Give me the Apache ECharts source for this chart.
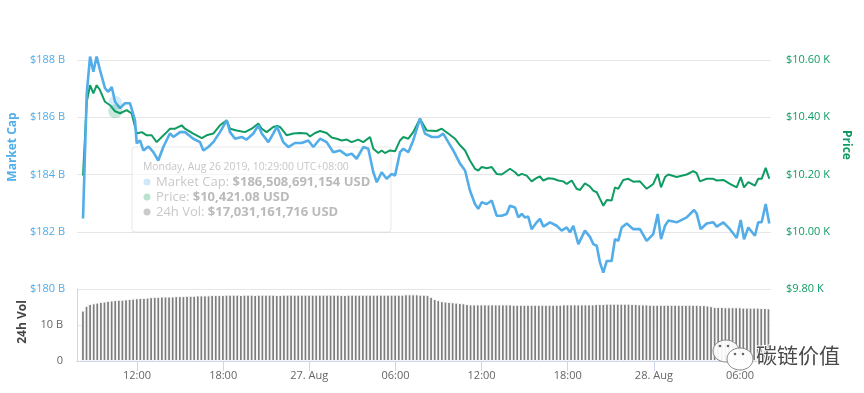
<!DOCTYPE html>
<html><head><meta charset="utf-8">
<script src="https://cdn.jsdelivr.net/npm/echarts@6/dist/echarts.min.js"></script>
<style>html,body{margin:0;padding:0;background:#fff}#c{width:864px;height:393px}</style>
</head><body><div id="c"></div>
<script>
// hours since Aug 26 2019 00:00 (UTC+08:00)
const mcHours = [8.24,8.50,8.73,8.96,9.19,9.42,9.77,10.00,10.24,10.47,10.82,11.16,11.51,11.86,11.98,12.21,12.44,12.79,13.14,13.48,13.83,14.30,14.53,15.00,15.34,15.92,16.39,16.62,16.97,17.31,17.78,18.25,18.48,18.83,19.29,19.64,20.10,20.45,20.69,21.15,21.49,21.75,22.19,22.54,23.00,23.47,23.93,24.28,24.75,25.21,25.67,26.14,26.61,26.95,27.30,27.76,28.11,28.46,28.70,29.04,29.39,29.74,29.97,30.32,30.55,30.90,31.24,31.71,32.06,32.53,32.99,33.33,33.68,34.03,34.50,34.85,35.19,35.54,35.77,36.01,36.36,36.71,37.05,37.40,37.75,37.98,38.33,38.56,38.80,39.02,39.25,39.49,39.84,40.07,40.30,40.77,41.23,41.58,41.93,42.16,42.39,42.74,43.20,43.55,43.78,44.02,44.25,44.48,44.72,45.06,45.29,45.52,45.76,46.11,46.57,47.03,47.50,47.96,48.27,48.50,48.78,49.01,49.59,50.29,50.80,50.98,51.26,51.68,52.14,52.38,52.84,53.30,53.77,54.05,54.28,54.58,55.04,55.27,55.51,55.79,56.04];
const mcValues = [182.46,186.84,188.12,187.59,188.12,187.65,187.02,186.89,187.06,186.54,186.32,186.49,186.49,185.89,185.09,185.19,184.84,184.98,184.78,184.49,184.96,185.44,185.31,185.48,185.48,185.25,185.13,184.84,184.96,185.13,185.48,185.89,185.48,185.25,185.31,185.22,185.43,185.72,185.43,185.13,185.43,185.68,185.13,184.96,185.10,185.10,185.19,184.96,185.25,185.13,184.78,184.84,184.67,184.73,184.55,184.96,184.90,184.08,183.73,184.08,183.85,184.02,183.96,184.78,184.90,184.78,185.19,185.95,185.43,185.31,185.31,185.43,185.13,184.84,184.38,184.14,183.44,182.97,182.80,183.03,182.97,183.09,182.56,182.56,182.62,182.91,182.85,182.50,182.62,182.50,182.53,182.09,182.33,182.45,182.18,182.33,182.21,182.04,182.15,181.98,182.21,181.57,182.04,181.82,181.57,181.51,180.92,180.57,180.98,180.98,181.74,181.68,182.15,182.29,182.09,182.09,181.68,181.92,182.62,181.74,182.21,182.39,182.33,182.50,182.76,182.64,182.09,182.29,182.33,182.18,182.33,182.09,181.78,182.41,181.74,182.15,181.86,182.33,182.33,182.97,182.29];
const priceHours = [8.24,8.50,8.73,8.96,9.19,9.42,9.77,10.12,10.47,10.82,11.28,11.63,11.98,12.33,12.68,13.02,13.37,13.60,14.07,14.30,14.65,15.11,15.34,15.92,16.51,16.85,17.31,17.78,18.25,18.48,18.94,19.52,19.99,20.45,20.69,21.03,21.49,21.75,21.96,22.43,22.89,23.35,23.82,24.05,24.40,24.75,25.21,25.56,25.91,26.26,26.61,26.95,27.41,27.76,28.23,28.46,28.81,29.04,29.27,29.62,29.97,30.32,30.55,30.90,31.24,31.71,32.18,32.87,33.22,33.68,34.15,34.50,34.85,35.19,35.54,35.77,36.01,36.36,36.71,37.05,37.40,37.63,37.98,38.33,38.56,38.80,39.14,39.49,39.84,40.07,40.30,40.65,41.00,41.34,41.69,41.93,42.28,42.62,42.86,43.20,43.55,43.78,44.02,44.25,44.48,44.72,45.06,45.29,45.52,45.87,46.22,46.57,47.03,47.50,47.96,48.27,48.50,48.78,49.01,49.59,50.29,50.75,50.98,51.21,51.68,52.14,52.38,52.84,53.30,53.77,54.05,54.28,54.58,55.04,55.27,55.51,55.79,56.04];
const priceValues = [10196,10454,10512,10483,10512,10495,10454,10442,10421,10414,10425,10413,10343,10348,10337,10337,10313,10325,10348,10360,10360,10372,10360,10343,10327,10337,10343,10372,10389,10360,10354,10348,10360,10378,10360,10348,10366,10370,10366,10337,10343,10345,10343,10333,10345,10352,10345,10329,10325,10319,10322,10313,10322,10313,10331,10290,10275,10284,10275,10284,10281,10319,10331,10325,10348,10395,10354,10352,10360,10343,10325,10302,10284,10249,10220,10214,10226,10222,10226,10202,10200,10208,10220,10208,10196,10202,10196,10176,10188,10193,10179,10187,10185,10179,10176,10167,10179,10150,10146,10169,10158,10144,10138,10115,10091,10111,10109,10155,10150,10181,10185,10175,10176,10150,10167,10202,10155,10191,10200,10191,10200,10212,10205,10176,10185,10185,10179,10181,10167,10155,10191,10155,10173,10161,10185,10185,10223,10185];
const volStartHour = 8.233;
const volStepHours = 0.25;
const volValues = [14.0,15.3,15.8,16.0,16.2,16.4,16.5,16.7,16.8,16.9,
17.0,17.0,17.1,17.2,17.3,17.4,17.5,17.5,17.6,17.7,
17.8,17.8,17.9,17.9,17.9,17.9,18.0,18.0,18.0,18.1,
18.1,18.1,18.2,18.2,18.2,18.2,18.3,18.3,18.3,18.3,
18.4,18.4,18.4,18.4,18.3,18.4,18.4,18.4,18.3,18.4,
18.4,18.4,18.4,18.4,18.3,18.3,18.4,18.4,18.4,18.4,
18.4,18.4,18.4,18.4,18.4,18.4,18.4,18.4,18.4,18.4,
18.4,18.4,18.3,18.3,18.4,18.4,18.4,18.4,18.4,18.4,
18.4,18.4,18.4,18.4,18.4,18.4,18.4,18.4,18.4,18.4,
18.5,18.5,18.5,18.5,18.4,18.4,18.3,17.8,17.2,16.9,
16.6,16.5,16.4,16.3,16.2,16.1,16.0,15.8,15.7,15.7,
15.7,15.7,15.7,15.7,15.7,15.7,15.7,15.7,15.7,15.7,
15.6,15.6,15.6,15.6,15.6,15.6,15.6,15.6,15.6,15.6,
15.6,15.6,15.6,15.6,15.7,15.7,15.7,15.7,15.7,15.7,
15.7,15.7,15.7,15.8,15.8,15.8,15.9,15.9,15.9,15.9,
15.9,15.9,15.9,15.8,15.8,15.7,15.7,15.7,15.6,15.6,
15.6,15.6,15.6,15.6,15.6,15.6,15.6,15.6,15.6,15.6,
15.6,15.6,15.5,15.5,15.4,15.2,15.0,15.0,15.0,14.9,
14.9,14.9,14.9,14.9,14.8,14.8,14.8,14.8,14.8,14.7,14.7,14.6];
const xTickHours = [12,18,24,30,36,42,48,54];
const xTickLabels = ['12:00','18:00','27. Aug','06:00','12:00','18:00','28. Aug','06:00'];
const hoverHour = 10.4833;
const hoverLabel = 'Monday, Aug 26 2019, 10:29:00 UTC+08:00';
const hoverMC = 186508691154;
const hoverPrice = 10421.08;
const hoverVol = 17031161716;

const BLUE = '#52ade8', GREEN = '#0e9c62', FONT = '"Open Sans", sans-serif';
const xMin = 7.82, xMax = 56.16;
const fmtInt = n => Math.round(n).toLocaleString('en-US');
const fmt2 = n => n.toLocaleString('en-US', {minimumFractionDigits: 2, maximumFractionDigits: 2});
const rowRich = {l: {fill: '#c9c9c9', font: '13px "Open Sans", sans-serif'}, v: {fill: '#bababa', font: 'bold 13px "Open Sans", sans-serif'}};

const chart = echarts.init(document.getElementById('c'), null, {renderer: 'canvas'});
chart.setOption({
  animation: false,
  backgroundColor: '#fff',
  grid: [
    {left: 77, right: 93, top: 60, height: 229},
    {left: 77, right: 93, top: 289, height: 72}
  ],
  xAxis: [
    {type: 'value', gridIndex: 0, min: xMin, max: xMax, show: false},
    {type: 'value', gridIndex: 1, min: xMin, max: xMax,
      axisLine: {show: true, lineStyle: {color: '#ccd6eb'}},
      axisTick: {show: true, length: 10, lineStyle: {color: '#ccd6eb'}, customValues: xTickHours},
      splitLine: {show: false},
      axisLabel: {customValues: xTickHours, color: '#666', fontSize: 11, fontFamily: FONT, margin: 9,
        formatter: v => { const i = xTickHours.indexOf(Math.round(v)); return i >= 0 ? xTickLabels[i] : ''; }}
    }
  ],
  yAxis: [
    {type: 'value', gridIndex: 0, min: 180, max: 188, interval: 2, position: 'left',
      axisLine: {show: false}, axisTick: {show: false},
      splitLine: {lineStyle: {color: '#e6e6e6'}},
      axisLabel: {color: BLUE, fontSize: 11, fontFamily: FONT, margin: 12, formatter: v => '$' + v + ' B'}},
    {type: 'value', gridIndex: 0, min: 9800, max: 10600, interval: 200, position: 'right',
      axisLine: {show: false}, axisTick: {show: false}, splitLine: {show: false},
      axisLabel: {color: GREEN, fontSize: 11, fontFamily: FONT, margin: 15, formatter: v => '$' + (v / 1000).toFixed(2) + ' K'}},
    {type: 'value', gridIndex: 1, min: 0, max: 20, interval: 10,
      axisLine: {show: true, lineStyle: {color: '#ccd6eb'}}, axisTick: {show: false},
      splitLine: {lineStyle: {color: '#e6e6e6'}},
      axisLabel: {color: '#666', fontSize: 11, fontFamily: FONT, margin: 14, showMaxLabel: false,
        formatter: v => v === 0 ? '0' : v + ' B'}}
  ],
  series: [
    {type: 'bar', xAxisIndex: 1, yAxisIndex: 2, barWidth: 3.6,
      itemStyle: {color: '#7d7d7d', borderColor: '#fff', borderWidth: 0.9},
      data: volValues.map((v, i) => [volStartHour + i * volStepHours, v])},
    {type: 'line', name: 'Price', xAxisIndex: 0, yAxisIndex: 1, showSymbol: false, clip: false, z: 3,
      lineStyle: {color: GREEN, width: 2}, itemStyle: {color: GREEN},
      data: priceHours.map((h, i) => [h, priceValues[i]])},
    {type: 'line', name: 'Market Cap', xAxisIndex: 0, yAxisIndex: 0, showSymbol: false, clip: false, z: 4,
      lineStyle: {color: BLUE, width: 2.6}, itemStyle: {color: BLUE},
      data: mcHours.map((h, i) => [h, mcValues[i]])},
    {type: 'scatter', xAxisIndex: 0, yAxisIndex: 0, symbolSize: 14, z: 5, silent: true,
      itemStyle: {color: 'rgba(82,173,232,0.28)'}, data: [[hoverHour, hoverMC / 1e9]]},
    {type: 'scatter', xAxisIndex: 0, yAxisIndex: 1, symbolSize: 14, z: 5, silent: true,
      itemStyle: {color: 'rgba(14,156,98,0.28)'}, data: [[hoverHour, hoverPrice]]}
  ],
  graphic: [
    {type: 'text', x: 13, y: 147, rotation: Math.PI / 2,
      style: {text: 'Market Cap', fill: BLUE, font: 'bold 12px "Open Sans", sans-serif', align: 'center', verticalAlign: 'middle'}},
    {type: 'text', x: 846, y: 145, rotation: -Math.PI / 2,
      style: {text: 'Price', fill: GREEN, font: 'bold 12px "Open Sans", sans-serif', align: 'center', verticalAlign: 'middle'}},
    {type: 'text', x: 23, y: 322, rotation: Math.PI / 2,
      style: {text: '24h Vol', fill: '#444', font: 'bold 12px "Open Sans", sans-serif', align: 'center', verticalAlign: 'middle'}},
    // faded tooltip
    {type: 'rect', z: 1, shape: {x: 132, y: 147, width: 259, height: 85, r: 3},
      style: {fill: 'rgba(255,255,255,0.65)', stroke: 'rgba(190,190,190,0.35)', lineWidth: 1}},
    {type: 'text', z: 1, x: 143, y: 167,
      style: {text: hoverLabel, fill: '#c6c6c6', font: '10.4px "Open Sans", sans-serif', verticalAlign: 'middle'}},
    {type: 'circle', z: 1, shape: {cx: 147, cy: 182, r: 3.5}, style: {fill: '#cfe7f8'}},
    {type: 'circle', z: 1, shape: {cx: 147, cy: 197, r: 3.5}, style: {fill: '#b9e2cf'}},
    {type: 'circle', z: 1, shape: {cx: 147, cy: 212, r: 3.5}, style: {fill: '#cacaca'}},
    {type: 'text', z: 1, x: 156, y: 182,
      style: {text: '{l|Market Cap: }{v|$' + fmtInt(hoverMC) + ' USD}', verticalAlign: 'middle', rich: rowRich}},
    {type: 'text', z: 1, x: 156, y: 197,
      style: {text: '{l|Price: }{v|$' + fmt2(hoverPrice) + ' USD}', verticalAlign: 'middle', rich: rowRich}},
    {type: 'text', z: 1, x: 156, y: 212,
      style: {text: '{l|24h Vol: }{v|$' + fmtInt(hoverVol) + ' USD}', verticalAlign: 'middle', rich: rowRich}},
    // watermark
    {type: 'ellipse', z: 20, shape: {cx: 726, cy: 351, rx: 13, ry: 11}, style: {fill: 'rgba(255,255,255,0.9)', stroke: '#8a8a8a', lineWidth: 1}},
    {type: 'ellipse', z: 21, shape: {cx: 740, cy: 359, rx: 13, ry: 11}, style: {fill: 'rgba(255,255,255,0.95)', stroke: '#8a8a8a', lineWidth: 1}},
    {type: 'circle', z: 22, shape: {cx: 720, cy: 346, r: 1.3}, style: {fill: '#666'}},
    {type: 'circle', z: 22, shape: {cx: 728, cy: 346, r: 1.3}, style: {fill: '#666'}},
    {type: 'circle', z: 22, shape: {cx: 735, cy: 354, r: 1.3}, style: {fill: '#666'}},
    {type: 'circle', z: 22, shape: {cx: 743, cy: 354, r: 1.3}, style: {fill: '#666'}},
    {type: 'text', z: 22, x: 756, y: 355,
      style: {text: '碳链价值', fill: '#4a4a4a', stroke: '#fff', lineWidth: 2, font: '21px "Noto Sans CJK SC", sans-serif', verticalAlign: 'middle'}}
  ]
});
</script>
</body></html>
